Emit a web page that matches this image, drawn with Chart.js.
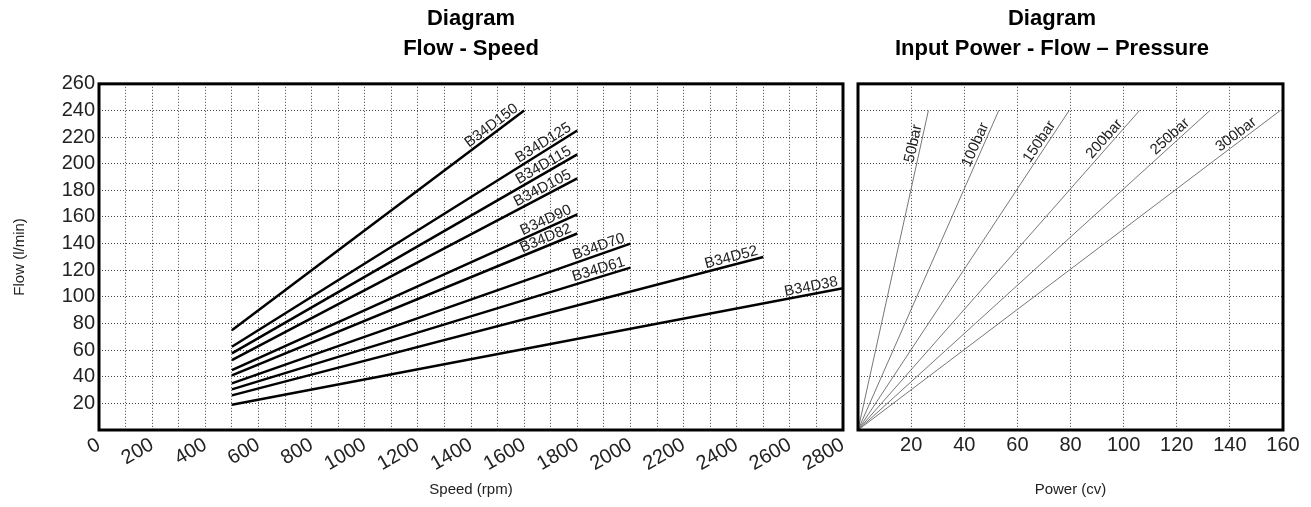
<!DOCTYPE html>
<html>
<head>
<meta charset="utf-8">
<script src="https://cdn.jsdelivr.net/npm/chart.js@4.4.1/dist/chart.umd.min.js"></script>
<style>
  body { margin: 0; background: #fff; }
  .box { position: absolute; top: 0; height: 507px; }
</style>
</head>
<body>
<div class="box" style="left:0;width:858px"><canvas id="flowChart"></canvas></div>
<div class="box" style="left:821px;width:490px"><canvas id="powerChart"></canvas></div>
<script>
// flow - speed (flow = displacement x speed)
const models = ["B34D150", "B34D125", "B34D115", "B34D105", "B34D90", "B34D82", "B34D70", "B34D61", "B34D52", "B34D38"];
const startSpeed = [500, 500, 500, 500, 500, 500, 500, 500, 500, 500];
const endSpeed = [1600, 1800, 1800, 1800, 1800, 1800, 2000, 2000, 2500, 2800];
const startFlow = [75, 62.5, 57.5, 52.5, 45, 41, 35, 30.5, 26, 19];
const endFlow = [240, 225, 207, 189, 162, 147.6, 140, 122, 130, 106.4];

// input power - flow - pressure
const pressures = ["50bar", "100bar", "150bar", "200bar", "250bar", "300bar"];
const powerAtMaxFlow = [26.5, 53, 79.5, 106, 132.5, 159];
const maxFlow = 240;

const FONT = "'Liberation Sans', Arial, sans-serif";
const GRID = "#444";
const gridDash = { display: false, dash: [1, 2] };

function fixWidth(w) { return (scale) => { scale.width = w; }; }
function fixHeight(h) { return (scale) => { scale.height = h; }; }

// thick frame round the plot area
const framePlugin = {
    id: "frame",
    afterDraw(chart) {
        const { ctx, chartArea: a } = chart;
        ctx.save();
        ctx.strokeStyle = "#000";
        ctx.lineWidth = 3;
        ctx.strokeRect(a.left, a.top, a.right - a.left, a.bottom - a.top);
        ctx.restore();
    },
};

// text along each line, taken from the dataset's own points
const lineLabels = {
    id: "lineLabels",
    afterDatasetsDraw(chart, args, opts) {
        const ctx = chart.ctx;
        chart.data.datasets.forEach((ds, i) => {
            const pts = chart.getDatasetMeta(i).data;
            const p0 = pts[0], p1 = pts[1];
            const ang = Math.atan2(p1.y - p0.y, p1.x - p0.x);
            const t = opts.at;
            const x = p0.x + (p1.x - p0.x) * t;
            const y = p0.y + (p1.y - p0.y) * t;
            ctx.save();
            ctx.translate(x, y);
            ctx.rotate(ang);
            ctx.font = opts.font;
            ctx.fillStyle = "#222";
            ctx.textAlign = "right";
            ctx.textBaseline = "bottom";
            ctx.fillText(ds.label, -opts.back, 0);
            ctx.restore();
        });
    },
};

const titleFont = { family: FONT, size: 22, weight: "bold", lineHeight: 1.36 };
const tickFont = { family: FONT, size: 20 };
const axisFont = { family: FONT, size: 15 };

new Chart(document.getElementById("flowChart"), {
    type: "scatter",
    data: {
        datasets: models.map((m, i) => ({
            label: m,
            data: [
                { x: startSpeed[i], y: startFlow[i] },
                { x: endSpeed[i], y: endFlow[i] },
            ],
            showLine: true,
            borderColor: "#000",
            borderWidth: 2.5,
            pointRadius: 0,
        })),
    },
    options: {
        responsive: true,
        maintainAspectRatio: false,
        animation: false,
        layout: { padding: { top: 0, left: 0, right: 0, bottom: 0 } },
        plugins: {
            legend: { display: false },
            tooltip: { enabled: false },
            title: {
                display: true,
                fullSize: false,
                text: ["Diagram", "Flow - Speed"],
                color: "#000",
                font: titleFont,
                padding: { top: 4, bottom: 20 },
            },
            lineLabels: { at: 1, back: 4, font: "15px " + FONT },
        },
        scales: {
            x: {
                type: "linear",
                min: 0,
                max: 2800,
                afterFit: fixHeight(77),
                grid: { color: GRID, drawTicks: false },
                border: gridDash,
                ticks: {
                    stepSize: 100,
                    autoSkip: false,
                    minRotation: 30,
                    maxRotation: 30,
                    padding: 3,
                    color: "#222",
                    font: tickFont,
                    callback: (v) => (v % 200 === 0 ? v : ""),
                },
                title: {
                    display: true,
                    text: "Speed (rpm)",
                    color: "#222",
                    font: axisFont,
                    padding: { top: 0, bottom: 8 },
                },
            },
            y: {
                min: 0,
                max: 260,
                afterFit: fixWidth(99),
                grid: { color: GRID, drawTicks: false },
                border: gridDash,
                ticks: {
                    stepSize: 20,
                    autoSkip: false,
                    padding: 4,
                    color: "#222",
                    font: tickFont,
                    callback: (v) => (v === 0 ? "" : v),
                },
                title: {
                    display: true,
                    text: "Flow (l/min)",
                    color: "#222",
                    font: axisFont,
                    padding: { top: 11, bottom: 0 },
                },
            },
        },
    },
    plugins: [lineLabels, framePlugin],
});

new Chart(document.getElementById("powerChart"), {
    type: "scatter",
    data: {
        datasets: pressures.map((p, i) => ({
            label: p,
            data: [
                { x: 0, y: 0 },
                { x: powerAtMaxFlow[i], y: maxFlow },
            ],
            showLine: true,
            borderColor: "#777",
            borderWidth: 1,
            pointRadius: 0,
        })),
    },
    options: {
        responsive: true,
        maintainAspectRatio: false,
        animation: false,
        layout: { padding: { top: 0, left: 0, right: 28, bottom: 0 } },
        plugins: {
            legend: { display: false },
            tooltip: { enabled: false },
            title: {
                display: true,
                text: ["Diagram", "Input Power - Flow \u2013 Pressure"],
                color: "#000",
                font: titleFont,
                padding: { top: 4, bottom: 20 },
            },
            lineLabels: { at: 0.95, back: 0, font: "15px " + FONT },
        },
        scales: {
            x: {
                type: "linear",
                min: 0,
                max: 160,
                afterFit: fixHeight(77),
                grid: { color: GRID, drawTicks: false },
                border: gridDash,
                ticks: {
                    stepSize: 20,
                    maxRotation: 0,
                    autoSkip: false,
                    padding: 3,
                    color: "#222",
                    font: tickFont,
                    callback: (v) => (v === 0 ? "" : v),
                },
                title: {
                    display: true,
                    text: "Power (cv)",
                    color: "#222",
                    font: axisFont,
                    padding: { top: 0, bottom: 8 },
                },
            },
            y: {
                min: 0,
                max: 260,
                afterFit: fixWidth(37),
                grid: { color: GRID, drawTicks: false },
                border: gridDash,
                ticks: { stepSize: 20, autoSkip: false, display: false },
            },
        },
    },
    plugins: [lineLabels, framePlugin],
});
</script>
</body>
</html>
